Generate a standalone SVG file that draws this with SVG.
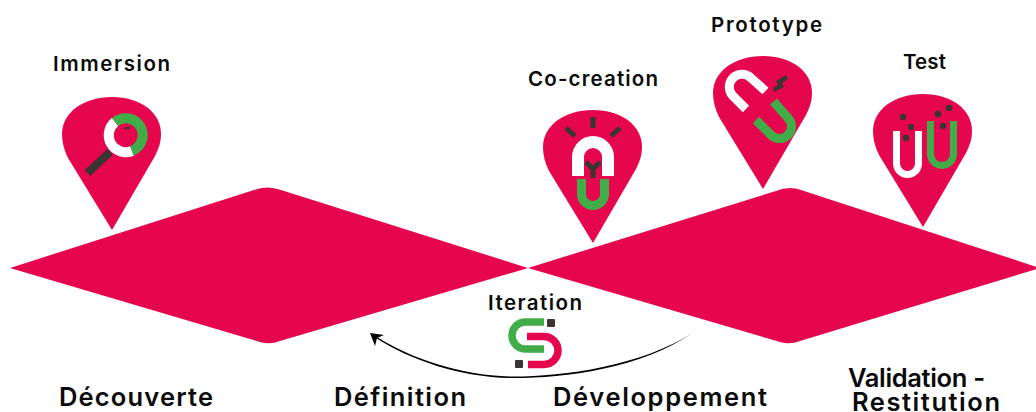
<svg xmlns="http://www.w3.org/2000/svg" width="1036" height="412" viewBox="0 0 1036 412">
<style>
.pink{fill:#e6064e}
.t{font-family:"Inter","Liberation Sans",sans-serif;font-weight:600;fill:#0b0b0b}
.s{font-size:20.500px}
.b{font-size:25.500px}
.l{fill:none;stroke-linecap:butt;stroke-linejoin:round}
.w{stroke:#fff}
.g{stroke:#41ad49}
.r{stroke:#e6064e}
.d{stroke:#3a3532}
.df{fill:#3a3532}
</style>
<defs>
<path id="pin" d="M0 0L-44 -72C-48 -80 -50 -88 -50 -96C-50 -118 -28 -133 0 -133C28 -133 49 -118 49 -96C49 -88 47 -82 43 -74Z"/>
</defs>
<g id="phases">
<path id="diamond-left" class="pink" d="M10 268L254 190Q267 185 281 190L528 268L280 341Q270 345 260 342Z"/>
<path id="diamond-right" class="pink" d="M528 268L776 191Q790 185 804 191L1040 268L800 341Q790 345 780 342Z"/>
</g>
<g id="immersion">
<use href="#pin" class="pink" x="112" y="230"/>
<path class="l w" stroke-width="10" d="M115 122A17 17 0 0 0 132 151"/>
<path class="l g" stroke-width="10" d="M115 122A17 17 0 1 1 132 151"/>
<path class="l d" stroke-width="8" stroke-linecap="round" d="M110 152L87.500 173"/>
<path class="l d" stroke-width="2" d="M125 129Q127 127 130 128"/>
<text class="t s" x="53" y="71" textLength="117" lengthAdjust="spacing">Immersion</text>
</g>
<g id="co-creation">
<use href="#pin" class="pink" x="593" y="243"/>
<path class="l w" stroke-width="12" d="M578 176V157A15 15 0 0 1 608 157V176"/>
<path class="l g" stroke-width="9" d="M581.500 179V194A11.500 11.500 0 0 0 604.500 194V179"/>
<path class="l d" stroke-width="5" d="M593 178V169L586 162M593 169L600 162M593 117V128M566 128L575 136M620 128L611 136"/>
<text class="t s" x="528" y="86" textLength="130" lengthAdjust="spacing">Co-creation</text>
</g>
<g id="prototype">
<use href="#pin" class="pink" x="763" y="189"/>
<path class="l w" stroke-width="9" d="M746 109L733 96A12.700 12.700 0 0 1 751 78L765.500 91"/>
<path class="l g" stroke-width="9" d="M756 120L771 135A12 12 0 0 0 788 118L773.500 101.500"/>
<polygon class="df" points="786,75 788,79 782,83 784,87 774,92 773,88 778,85 776,81"/>
<text class="t s" x="711" y="32" textLength="111" lengthAdjust="spacing">Prototype</text>
</g>
<g id="test">
<use href="#pin" class="pink" x="923" y="227"/>
<path class="l w" stroke-width="7" d="M896.500 131V163.500A11 11 0 0 0 918.500 163.500V131"/>
<path class="l g" stroke-width="7" d="M930.500 121V154A11.500 11.500 0 0 0 953.500 154V121"/>
<g class="df">
<circle cx="903" cy="117" r="3.200"/><circle cx="911" cy="127" r="3.200"/><circle cx="906" cy="138" r="3.200"/>
<circle cx="938" cy="114" r="3.200"/><circle cx="949" cy="108" r="3.200"/><circle cx="943" cy="126" r="3.200"/>
</g>
<text class="t s" x="903" y="69" textLength="43" lengthAdjust="spacing">Test</text>
</g>
<g id="iteration">
<path class="l g" stroke-width="7.500" d="M544 322H525.500A13.500 13.500 0 0 0 525.500 349H544"/>
<path class="l r" stroke-width="7.500" d="M527 336.500H544A14 14 0 0 1 544 364.500H528"/>
<rect class="df" x="547" y="319" width="8" height="8" rx="1"/>
<rect class="df" x="515" y="360" width="8" height="8" rx="1"/>
<text class="t s" x="488" y="310" textLength="94" lengthAdjust="spacing">Iteration</text>
</g>
<g id="connectors">
<path id="iteration-arrow" fill="#000" d="M694 332C640 370 560 378.500 510 378C460 377 410 360 376 338L377 337C411 358.500 460 375 510 376.500C560 377 640 367 694 332Z"/>
<polygon fill="#000" points="370,333 384,335 377,338 375,346"/>
</g>
<g id="labels">
<text class="t b" x="59" y="406" textLength="154" lengthAdjust="spacing">Découverte</text>
<text class="t b" x="334" y="406" textLength="132" lengthAdjust="spacing">Définition</text>
<text class="t b" x="553" y="406" textLength="214" lengthAdjust="spacing">Développement</text>
<text class="t b" x="848" y="387" textLength="137" lengthAdjust="spacing">Validation -</text>
<text class="t b" x="852" y="411" textLength="148" lengthAdjust="spacing">Restitution</text>
</g>
</svg>
